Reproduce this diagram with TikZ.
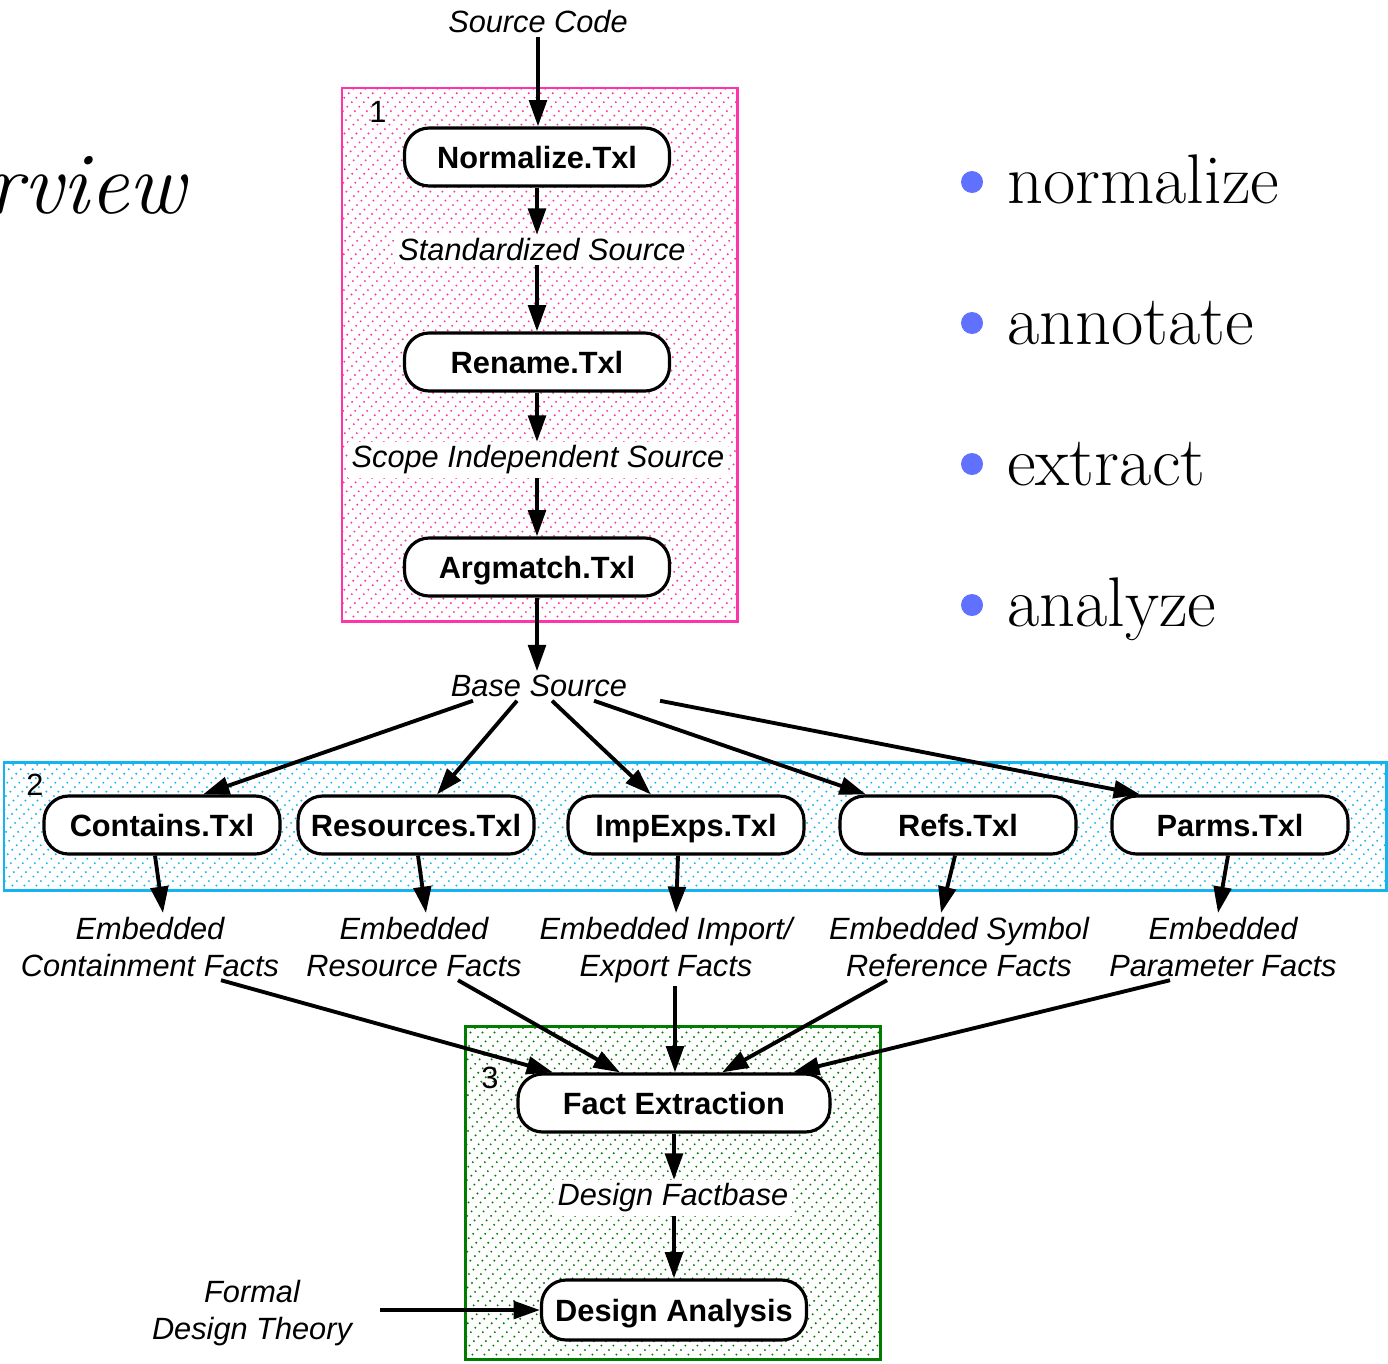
\documentclass[tikz,border=0pt]{standalone}
\usepackage{fontspec}
\newfontfamily\helv{Liberation Sans}
\usetikzlibrary{calc,positioning,arrows.meta}
\definecolor{pinkbox}{RGB}{255,51,170}
\definecolor{cyanbox}{RGB}{20,180,240}
\definecolor{greenbox}{RGB}{0,125,0}
\definecolor{bulletblue}{RGB}{96,112,255}

\begin{document}
\begin{tikzpicture}[x=0.02cm,y=-0.02cm,font=\helv\fontsize{17.5}{21}\selectfont]
    \tikzstyle{arr}=[-{Triangle[length=15pt,width=10pt]},line width=2.2pt]
    \tikzstyle{txl}=[draw,line width=1.8pt,fill=white,rounded corners=14pt,minimum width=5.3cm,minimum height=1.16cm,text height=12.8pt,text depth=0pt,font=\helv\bfseries\fontsize{17.5}{21}\selectfont]
    \tikzstyle{txlrow}=[txl,minimum width=4.72cm]
    \tikzstyle{lbl}=[fill=white,inner sep=2pt,align=center,font=\helv\itshape\fontsize{17.5}{21}\selectfont]
    \tikzstyle{facts}=[lbl,fill=none,anchor=north]
    \tikzstyle{dots}=[line width=1.2pt,line cap=round,dash pattern=on 0pt off 3.6pt]
    \tikzstyle{item}=[anchor=base west,inner sep=0pt,font=\rmfamily\fontsize{40}{44}\selectfont]

\useasboundingbox (0,0) rectangle (1388,1363);

% stage boxes, dotted hatch
\begin{scope}
\clip (342,88) rectangle (737,621);
\foreach \c in {430,442,...,1360} \draw[dots,pinkbox] (\c-621,621) -- (\c-88,88);
\end{scope}
\draw[pinkbox,line width=1.7pt] (342,88) rectangle (737,621);
\begin{scope}
\clip (4,762) rectangle (1386,890);
\foreach \c in {766,778,...,2280} \draw[dots,cyanbox] (\c-890,890) -- (\c-762,762);
\end{scope}
\draw[cyanbox,line width=1.7pt] (4,762) rectangle (1386,890);
\begin{scope}
\clip (465,1026) rectangle (880,1359);
\foreach \c in {1491,1503,...,2240} \draw[dots,greenbox] (\c-1359,1359) -- (\c-1026,1026);
\end{scope}
\draw[greenbox,line width=1.7pt] (465,1026) rectangle (880,1359);

\node (one) at (378,112) {1};
\node (two) at (35,785) {2};
\node (three) at (490,1078) {3};

% stage 1
\node[lbl,fill=none] (src) at (538,22) {Source Code};
\node[txl] (norm) at (537,157) {Normalize.Txl};
\node[lbl] (std) at (542,250) {Standardized Source};
\node[txl] (ren) at (537,362) {Rename.Txl};
\node[lbl] (scope) at (538,460) {Scope Independent Source};
\node[txl] (arg) at (537,567) {Argmatch.Txl};
\node[lbl] (base) at (539,686) {Base Source};

\draw[arr] (src) -- (src |- norm.north);
\draw[arr] (norm) -- (norm |- std.north);
\draw[arr] (std.south -| norm) -- (ren);
\draw[arr] (ren) -- (ren |- scope.north);
\draw[arr] (scope.south -| ren) -- (arg);
\draw[arr] (arg) -- (arg |- base.north);

% stage 2
\node[txlrow] (cont) at (162,825) {Contains.Txl};
\node[txlrow] (res) at (416,825) {Resources.Txl};
\node[txlrow] (imp) at (686,825) {ImpExps.Txl};
\node[txlrow] (refs) at (958,825) {Refs.Txl};
\node[txlrow] (parms) at (1230,825) {Parms.Txl};

\draw[arr] ($(base.south)+(-66,0)$) -- ($(cont.north)+(41,0)$);
\draw[arr] ($(base.south)+(-22,0)$) -- ($(res.north)+(21,0)$);
\draw[arr] ($(base.south)+(13,0)$) -- ($(imp.north)+(-35,0)$);
\draw[arr] ($(base.south)+(55,0)$) -- ($(refs.north)+(-92,0)$);
\draw[arr] ($(base.south)+(121,0)$) -- ($(parms.north)+(-90,0)$);

\node[facts] (contf) at (150,913) {Embedded\\Containment Facts};
\node[facts] (resf) at (414,913) {Embedded\\Resource Facts};
\node[facts] (impf) at (666,913) {Embedded Import/\\Export Facts};
\node[facts] (refsf) at (959,913) {Embedded Symbol\\Reference Facts};
\node[facts] (parmsf) at (1223,913) {Embedded\\Parameter Facts};

\draw[arr] ($(cont.south)+(-7,0)$) -- ($(contf.north)+(13,0)$);
\draw[arr] ($(res.south)+(2,0)$) -- ($(resf.north)+(12,0)$);
\draw[arr] ($(imp.south)+(-8,0)$) -- ($(impf.north)+(10,0)$);
\draw[arr] ($(refs.south)+(-3,0)$) -- ($(refsf.north)+(-18,0)$);
\draw[arr] ($(parms.south)+(-2,0)$) -- ($(parmsf.north)+(-5,0)$);

% stage 3
\node[txl,minimum width=6.24cm] (fact) at (674,1103) {Fact Extraction};
\node[lbl] (fbase) at (673,1198) {Design Factbase};
\node[txl,minimum height=1.2cm] (anal) at (674,1310) {Design Analysis};
\node[lbl,fill=none] (theory) at (252,1313) {Formal\\Design Theory};

\draw[arr] (contf.south -| 221,0) -- ($(fact.north)+(-121,0)$);
\draw[arr] (resf.south -| 458,0) -- ($(fact.north)+(-54,0)$);
\draw[arr] (impf.south -| 675,0) -- ($(fact.north)+(1,0)$);
\draw[arr] (refsf.south -| 887,0) -- ($(fact.north)+(48,0)$);
\draw[arr] (parmsf.south -| 1170,0) -- ($(fact.north)+(119,0)$);

\draw[arr] (fact) -- (fact |- fbase.north);
\draw[arr] (fbase.south -| fact) -- (anal);
\draw[arr] ($(theory.east)+(24,-3)$) -- (anal.west);

% slide text
\node[anchor=base east,inner sep=0pt,font=\rmfamily\itshape\fontsize{50}{54}\selectfont] (title) at (186,213) {Overview};
\foreach \w [count=\i] in {normalize,annotate,extract,analyze} {
  \fill[bulletblue] (972,41+141*\i) circle (0.22cm);
  \node[item] (item\i) at (1007,62+141*\i) {\w};
}
\end{tikzpicture}
\end{document}
